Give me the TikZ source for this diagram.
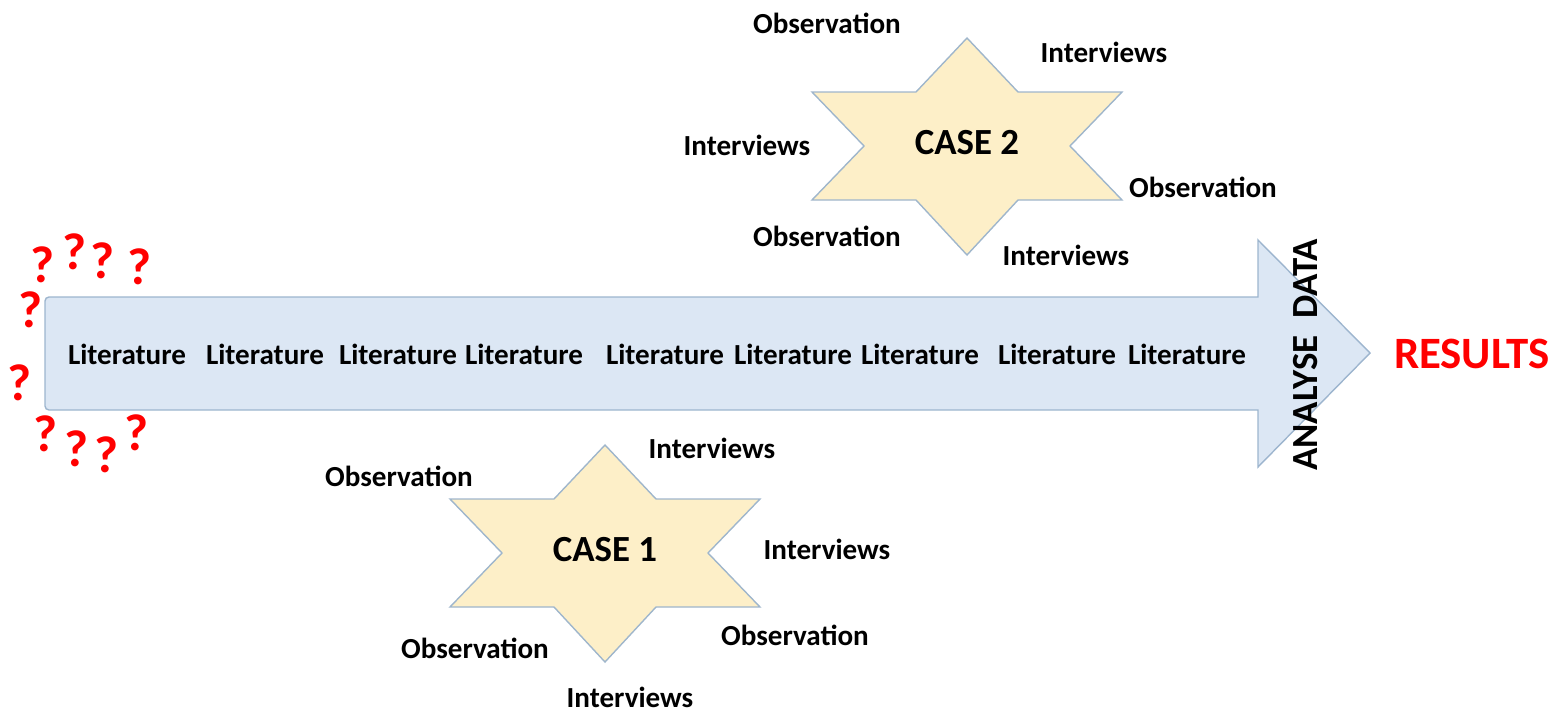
\documentclass[tikz,border=0pt]{standalone}
\usepackage{fontspec}
\setmainfont{Carlito}
\definecolor{arrowfill}{HTML}{DCE7F4}
\definecolor{arrowedge}{HTML}{9DB5CE}
\definecolor{starfill}{HTML}{FDEFC8}
\definecolor{staredge}{HTML}{9FB6CC}
\tikzset{
  word/.style={font=\fontsize{14.6}{18}\selectfont\bfseries, inner sep=1pt},
  casetext/.style={font=\fontsize{18.5}{22}\selectfont\bfseries, inner sep=1pt},
  quest/.style={font=\fontsize{26}{30}\selectfont\bfseries, text=red, inner sep=0pt},
}
% six pointed star: centre x, centre y, name, text
\newcommand\hexstar[4]{
  \draw[staredge, fill=starfill, line width=0.7pt]
    (#1,#2-108) -- (#1+51,#2-54) -- (#1+155,#2-54) -- (#1+103,#2)
    -- (#1+155,#2+54) -- (#1+51,#2+54) -- (#1,#2+109) -- (#1-51,#2+54)
    -- (#1-155,#2+54) -- (#1-103,#2) -- (#1-155,#2-54) -- (#1-51,#2-54) -- cycle;
  \node[casetext] (#3) at (#1,#2-3) {#4};
}
\begin{document}
\begin{tikzpicture}[x=0.5bp, y=-0.5bp]
    \useasboundingbox (0,0) rectangle (1558,713);

    % main arrow
    \draw[arrowedge, fill=arrowfill, line width=0.7pt]
      (1258,297) -- (1258,240) -- (1370,353) -- (1258,467) -- (1258,410)
      [rounded corners=2pt] -- (45,410) -- (45,297) [sharp corners] -- cycle;
    \foreach \x [count=\i] in {127,265,398,524,665,793,920,1057,1187}
      \node[word] (lit\i) at (\x,354) {Literature};
    \node[font=\fontsize{18.5}{22}\selectfont\bfseries, rotate=90, inner sep=0pt] (analyse) at (1306,355) {ANALYSE\ \ DATA};
    \node[font=\fontsize{22.5}{26}\selectfont\bfseries, text=red, inner sep=0pt] (results) at (1472,354) {RESULTS};

    % question marks
    \foreach \x/\y [count=\i] in {43/265, 75/252, 103/261, 140/267, 31/310, 20/383,
                                  46/434, 77/449, 107/455, 137/433}
      \node[quest] (q\i) at (\x,\y) {?};

    % case 2
    \hexstar{967}{146}{case2}{CASE 2}
    \node[word] (obs2a) at (827,23) {Observation};
    \node[word] (int2a) at (1104,52) {Interviews};
    \node[word] (int2b) at (747,145) {Interviews};
    \node[word] (obs2b) at (1203,187) {Observation};
    \node[word] (obs2c) at (827,236) {Observation};
    \node[word] (int2c) at (1066,255) {Interviews};

    % case 1
    \hexstar{605}{553}{case1}{CASE 1}
    \node[word] (int1a) at (712,448) {Interviews};
    \node[word] (obs1a) at (399,476) {Observation};
    \node[word] (int1b) at (827,549) {Interviews};
    \node[word] (obs1b) at (795,635) {Observation};
    \node[word] (obs1c) at (475,648) {Observation};
    \node[word] (int1c) at (630,697) {Interviews};
\end{tikzpicture}
\end{document}
